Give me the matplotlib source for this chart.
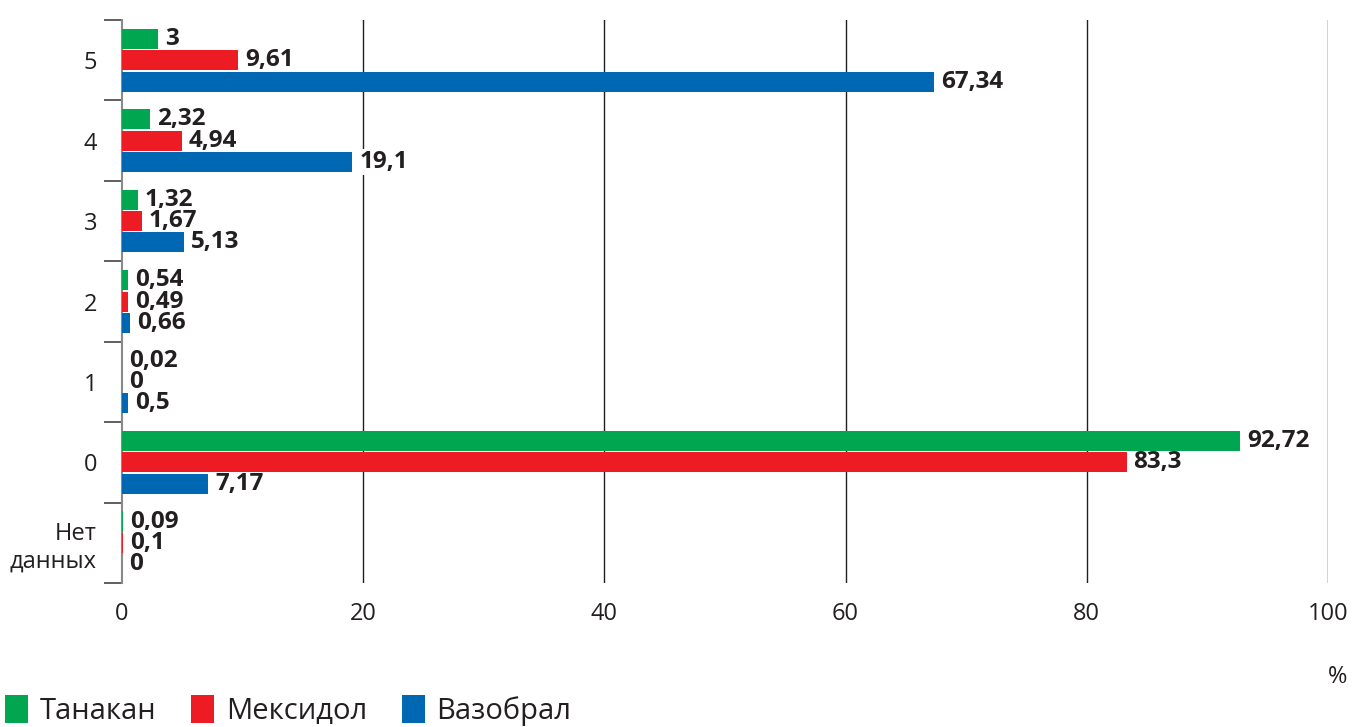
import numpy as np
import matplotlib
matplotlib.use("Agg")
import matplotlib.pyplot as plt

plt.rcParams['font.family'] = ['Open Sans', 'DejaVu Sans']

# группы снизу вверх
categories = ['Нет\nданных', '0', '1', '2', '3', '4', '5']
tanakan = [0.09, 92.72, 0.02, 0.54, 1.32, 2.32, 3]
mexidol = [0.1, 83.3, 0, 0.49, 1.67, 4.94, 9.61]
vazobral = [0, 7.17, 0.5, 0.66, 5.13, 19.1, 67.34]
names = ['Танакан', 'Мексидол', 'Вазобрал']
colors = ['#00A650', '#ED1C24', '#0067B3']
xticks = [0, 20, 40, 60, 80, 100]

txt = '#231F20'

fig = plt.figure(figsize=(13.52, 7.27), dpi=100)
ax = fig.add_axes([0.0902, 0.198, 0.892, 0.7744])

y = np.arange(len(categories))
offsets = [0.265, 0, -0.265]
handles = []
for vals, off, col, name in zip([tanakan, mexidol, vazobral], offsets, colors, names):
    bars = ax.barh(y + off, vals, height=0.25, color=col, zorder=3, label=name)
    handles.append(bars)
    for b, v in zip(bars, vals):
        lab = f'{v:g}'.replace('.', ',')
        # белая подложка закрывает сетку, но лежит под столбиками
        ax.annotate(lab, (v, b.get_y() + b.get_height() / 2), xytext=(5, 0),
                    textcoords='offset points', va='center', ha='left',
                    fontsize=17.5, fontweight='bold', color=txt, zorder=2,
                    bbox=dict(fc='white', ec='none', pad=0.5))

ax.set_xlim(0, 100)
ax.set_ylim(-0.5, len(categories) - 0.5)

ax.set_xticks(xticks)
ax.set_xticklabels([str(t) for t in xticks])
ax.xaxis.grid(True, color=txt, lw=1.0, zorder=1)
ax.set_axisbelow(True)
ax.get_xgridlines()[0].set_visible(False)
ax.tick_params(axis='x', length=0, pad=14, labelsize=17, labelcolor=txt)

ax.set_yticks(np.arange(-0.5, len(categories), 1))
ax.set_yticklabels([])
ax.set_yticks(y, minor=True)
ax.set_yticklabels(categories, minor=True)
ax.tick_params(axis='y', which='major', length=13, width=1.2, color='#444444')
ax.tick_params(axis='y', which='minor', length=0, pad=18, labelsize=17, labelcolor=txt)

for s in ['top', 'right', 'bottom']:
    ax.spines[s].set_visible(False)
ax.spines['left'].set_color('#8a8a8a')
ax.spines['left'].set_linewidth(1.5)
ax.spines['left'].set_zorder(2.5)

fig.text(1338 / 1352, 1 - 677 / 727, '%', fontsize=17, color=txt, ha='center', va='center')

fig.legend(handles=handles, labels=names, loc='lower left', bbox_to_anchor=(0.004, 0.002),
           ncol=3, frameon=False, fontsize=21, handlelength=0.78, handleheight=1.1,
           handletextpad=0.4, columnspacing=1.2, borderpad=0.0, borderaxespad=0,
           labelcolor=txt)

fig.savefig('out.png', dpi=100)
